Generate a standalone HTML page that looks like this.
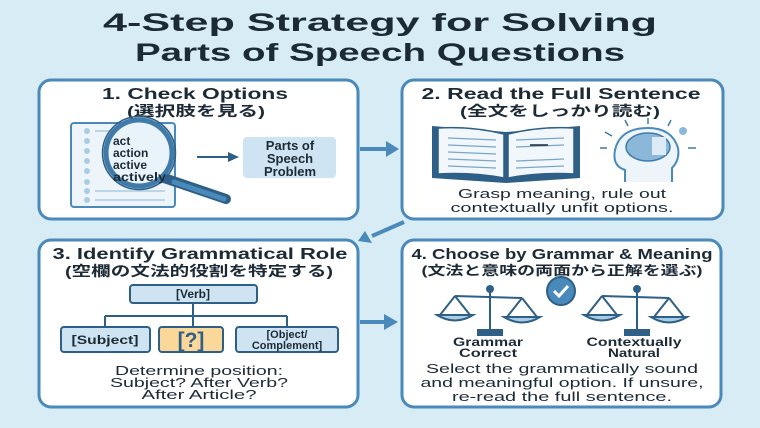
<!DOCTYPE html>
<html><head><meta charset="utf-8"><style>
body{margin:0;background:#d7ecf5;}
svg{display:block;font-family:"Liberation Sans","Noto Sans CJK JP",sans-serif;}
</style></head><body>
<svg width="760" height="428" viewBox="0 0 760 428" xmlns="http://www.w3.org/2000/svg">
<rect width="760" height="428" fill="#d7ecf5"/>
<g font-weight="bold" fill="#1c2a36" text-anchor="middle">
<text x="380" y="31" font-size="25" textLength="554" lengthAdjust="spacingAndGlyphs">4-Step Strategy for Solving</text>
<text x="380" y="61" font-size="25" textLength="490" lengthAdjust="spacingAndGlyphs">Parts of Speech Questions</text>
</g>
<g fill="#fff" stroke="#4a8abb" stroke-width="3">
<rect x="39" y="80" width="319" height="139" rx="12"/>
<rect x="402" y="80" width="321" height="139" rx="12"/>
<rect x="39" y="240" width="319" height="167" rx="12"/>
<rect x="402" y="240" width="319" height="167" rx="12"/>
</g>
<g stroke="#4a8abb" stroke-width="4" fill="#4a8abb">
<line x1="360" y1="149" x2="388" y2="149"/><polygon points="386,141 399,149 386,157" stroke="none"/>
<line x1="404" y1="222" x2="372" y2="236"/><polygon points="365,231 358,241 372,243" stroke="none"/>
<line x1="360" y1="322" x2="386" y2="322"/><polygon points="384,314 398,322 384,330" stroke="none"/>
</g>
<g font-weight="bold" fill="#1c2a36" text-anchor="middle">
<text x="195" y="99" font-size="16" textLength="186" lengthAdjust="spacingAndGlyphs">1. Check Options</text>
<text x="196" y="116" font-size="14" textLength="138" lengthAdjust="spacingAndGlyphs">(選択肢を見る)</text>
<text x="561" y="99" font-size="16" textLength="279" lengthAdjust="spacingAndGlyphs">2. Read the Full Sentence</text>
<text x="560" y="116" font-size="14" textLength="200" lengthAdjust="spacingAndGlyphs">(全文をしっかり読む)</text>
<text x="200" y="259" font-size="16" textLength="295" lengthAdjust="spacingAndGlyphs">3. Identify Grammatical Role</text>
<text x="199" y="276" font-size="14" textLength="268" lengthAdjust="spacingAndGlyphs">(空欄の文法的役割を特定する)</text>
<text x="562" y="259" font-size="15" textLength="301" lengthAdjust="spacingAndGlyphs">4. Choose by Grammar &amp; Meaning</text>
<text x="562" y="275" font-size="13" textLength="281" lengthAdjust="spacingAndGlyphs">(文法と意味の両面から正解を選ぶ)</text>
</g>
<!-- panel1 -->
<rect x="71" y="123" width="104" height="84" rx="3" fill="#eef5fa" stroke="#4a8abb" stroke-width="2"/>
<g fill="#a9cde4"><circle cx="87" cy="131" r="3"/><circle cx="87" cy="141" r="3"/><circle cx="87" cy="151" r="3"/><circle cx="87" cy="161" r="3"/><circle cx="87" cy="171" r="3"/><circle cx="87" cy="182" r="3"/><circle cx="87" cy="191" r="3"/><circle cx="87" cy="200" r="3"/></g>
<g stroke="#a9cde4" stroke-width="1.5"><line x1="95" y1="131" x2="165" y2="131"/><line x1="95" y1="191" x2="165" y2="191"/><line x1="95" y1="200" x2="165" y2="200"/></g>
<line x1="164" y1="178" x2="226" y2="199" stroke="#2e5f86" stroke-width="10" stroke-linecap="round"/>
<line x1="174" y1="182" x2="224" y2="199" stroke="#4a8abb" stroke-width="5" stroke-linecap="round"/>
<circle cx="139" cy="153" r="33" fill="#e9f3fa" stroke="#3f7aa8" stroke-width="5"/>
<circle cx="139" cy="153" r="36.5" fill="none" stroke="#2e5f86" stroke-width="1.5"/>
<g font-size="12" font-weight="bold" fill="#1c2a36">
<text x="113" y="145">act</text><text x="113" y="157">action</text><text x="113" y="169">active</text><text x="113" y="181" textLength="53" lengthAdjust="spacingAndGlyphs">actively</text>
</g>
<line x1="197" y1="157" x2="230" y2="157" stroke="#2e5f86" stroke-width="2"/>
<polygon points="228,152 239,157 228,162" fill="#2e5f86"/>
<rect x="243" y="137" width="93" height="41" rx="4" fill="#cfe4f2"/>
<g font-size="13" font-weight="bold" fill="#1c2a36" text-anchor="middle">
<text x="290" y="150">Parts of</text><text x="290" y="163">Speech</text><text x="290" y="176">Problem</text>
</g>
<!-- panel2 -->
<path d="M432,126 L506,132 L580,126 L580,178 L506,183 L432,178 Z" fill="#2e5f86"/>
<path d="M438,128 Q472,126 504,134 L504,178 Q472,172 438,174 Z" fill="#f2f7fb" stroke="#2e5f86" stroke-width="1.5"/>
<path d="M574,128 Q540,126 508,134 L508,178 Q540,172 574,174 Z" fill="#f2f7fb" stroke="#2e5f86" stroke-width="1.5"/>
<g stroke="#7aa6c8" stroke-width="1.3">
<line x1="448" y1="138" x2="496" y2="140"/><line x1="448" y1="145" x2="496" y2="147"/><line x1="448" y1="152" x2="496" y2="154"/><line x1="448" y1="159" x2="496" y2="161"/><line x1="448" y1="166" x2="496" y2="168"/>
<line x1="516" y1="140" x2="564" y2="138"/><line x1="516" y1="147" x2="564" y2="145"/><line x1="516" y1="161" x2="564" y2="159"/><line x1="516" y1="168" x2="564" y2="166"/>
</g>
<line x1="530" y1="145" x2="548" y2="145" stroke="#1c2a36" stroke-width="1.5"/>
<path d="M625,182 L625,170 Q612,166 615,150 Q620,128 648,128 Q672,128 678,148 Q680,160 672,168 L672,182" fill="#eef5fa" stroke="#4a8abb" stroke-width="2"/>
<ellipse cx="648" cy="147" rx="22" ry="14" fill="#8bb8d8" stroke="#3f7aa8" stroke-width="1.5"/>
<rect x="652" y="137" width="14" height="18" fill="#dbeaf5"/>
<circle cx="683" cy="131" r="4" fill="#8bb8d8"/>
<g stroke="#3f7aa8" stroke-width="1.5"><line x1="607" y1="148" x2="600" y2="148"/><line x1="612" y1="136" x2="605" y2="132"/><line x1="628" y1="126" x2="625" y2="120"/><line x1="648" y1="124" x2="648" y2="118"/><line x1="668" y1="126" x2="671" y2="120"/><line x1="688" y1="148" x2="696" y2="148"/></g>
<g font-size="13" fill="#1c2a36" text-anchor="middle">
<text x="562" y="198" textLength="208" lengthAdjust="spacingAndGlyphs">Grasp meaning, rule out</text><text x="562" y="212" textLength="223" lengthAdjust="spacingAndGlyphs">contextually unfit options.</text>
</g>
<!-- panel3 -->
<g stroke="#2e5f86" stroke-width="2" fill="none">
<line x1="193" y1="303" x2="193" y2="327"/><line x1="105" y1="316" x2="287" y2="316"/><line x1="105" y1="316" x2="105" y2="327"/><line x1="287" y1="316" x2="287" y2="327"/>
</g>
<rect x="130" y="285" width="127" height="18" rx="3" fill="#cfe4f2" stroke="#2e5f86" stroke-width="2"/>
<rect x="61" y="327" width="89" height="25" rx="3" fill="#cfe4f2" stroke="#2e5f86" stroke-width="2"/>
<rect x="159" y="327" width="64" height="25" rx="3" fill="#fbd79a" stroke="#2e5f86" stroke-width="2"/>
<rect x="236" y="327" width="102" height="25" rx="3" fill="#cfe4f2" stroke="#2e5f86" stroke-width="2"/>
<g font-weight="bold" fill="#1c2a36" text-anchor="middle">
<text x="193" y="298" font-size="12">[Verb]</text>
<text x="105" y="344" font-size="12" textLength="67" lengthAdjust="spacingAndGlyphs">[Subject]</text>
<text x="191" y="347" font-size="21" fill="#2e5f86">[?]</text>
<text x="287" y="338" font-size="11">[Object/</text><text x="287" y="349" font-size="11">Complement]</text>
</g>
<g font-size="13" fill="#1c2a36" text-anchor="middle">
<text x="199" y="375" textLength="168" lengthAdjust="spacingAndGlyphs">Determine position:</text><text x="199" y="387" textLength="178" lengthAdjust="spacingAndGlyphs">Subject? After Verb?</text><text x="199" y="399" textLength="115" lengthAdjust="spacingAndGlyphs">After Article?</text>
</g>
<!-- panel4 -->
<g id="sc" fill="#a9cde4" stroke="#2e5f86" stroke-width="2">
<line x1="490" y1="290" x2="490" y2="330"/>
<line x1="455" y1="296" x2="522" y2="298"/>
<circle cx="490" cy="289" r="3" fill="#2e5f86"/>
<path d="M455,296 L440,315 M455,296 L470,315 M522,298 L507,317 M522,298 L537,317" fill="none"/>
<path d="M437,315 Q455,326 473,315 Z"/>
<path d="M504,317 Q522,328 540,317 Z"/>
<rect x="478" y="330" width="24" height="5" fill="#2e5f86"/>
</g>
<use href="#sc" x="147"/>
<circle cx="561" cy="291" r="14" fill="#4a8abb" stroke="#2e5f86" stroke-width="2"/>
<path d="M554,291 L559,296 L568,286" fill="none" stroke="#fff" stroke-width="3"/>
<g font-size="11.5" font-weight="bold" fill="#1c2a36" text-anchor="middle">
<text x="488" y="346" textLength="70" lengthAdjust="spacingAndGlyphs">Grammar</text><text x="488" y="357" textLength="58" lengthAdjust="spacingAndGlyphs">Correct</text>
<text x="634" y="346" textLength="95" lengthAdjust="spacingAndGlyphs">Contextually</text><text x="634" y="357" textLength="52" lengthAdjust="spacingAndGlyphs">Natural</text>
</g>
<g font-size="13" fill="#1c2a36" text-anchor="middle">
<text x="562" y="373" textLength="272" lengthAdjust="spacingAndGlyphs">Select the grammatically sound</text><text x="562" y="387" textLength="283" lengthAdjust="spacingAndGlyphs">and meaningful option. If unsure,</text><text x="562" y="401" textLength="220" lengthAdjust="spacingAndGlyphs">re-read the full sentence.</text>
</g>
</svg>
</body></html>
